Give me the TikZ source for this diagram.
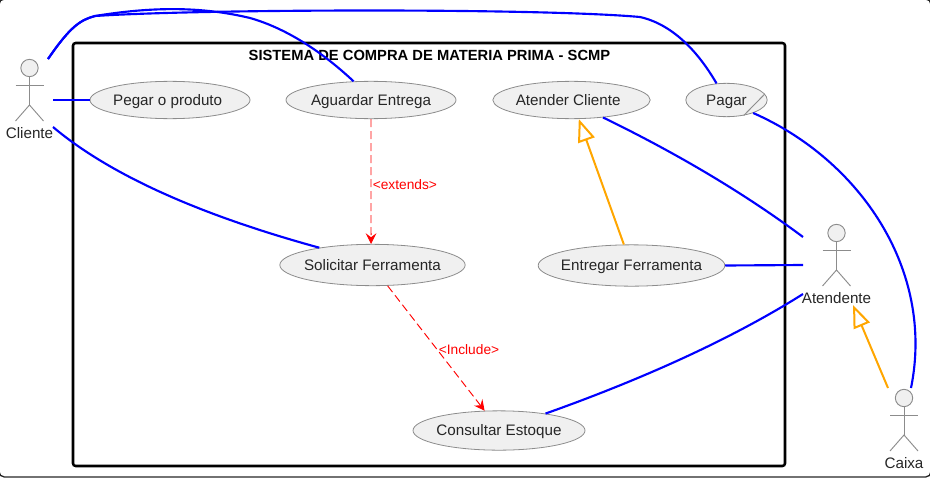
\documentclass[tikz,border=0pt]{standalone}
\usepackage{fontspec}
\setmainfont{Liberation Sans}
\usetikzlibrary{arrows.meta,shapes.geometric}

\tikzset{
  usecase/.style={ellipse,draw=gray!90,fill=black!6,line width=.6pt,inner ysep=0pt,inner xsep=-4pt,text height=8pt,text depth=0pt,font=\fontsize{11.4}{13}\selectfont,text=black!85},
  assoc/.style={draw=blue,line width=1.6pt},
  general/.style={draw=orange!70!yellow,line width=1.5pt,-{Triangle[open,fill=white,length=17pt,width=13pt]}},
  depend/.style={draw=red,dash pattern=on 6pt off 3pt,line width=.7pt,-{Stealth[length=8pt,width=8pt,inset=3pt]}},
  deplabel/.style={text=red,font=\fontsize{10.3}{12}\selectfont,inner sep=0pt},
  limb/.style={draw=gray!90,line width=.7pt},
  actor/.pic={
    \node[circle,draw=gray!90,fill=black!6,line width=.7pt,minimum size=13pt,inner sep=0pt] (-head) at (0,0) {};
    \draw[limb] (-head.south) -- (0,37);
    \draw[limb] (-14,17) -- (14,17);
    \draw[limb] (-14,53) -- (0,37) -- (14,53);
    \node[font=\fontsize{11.4}{13}\selectfont,text=black!85,inner sep=0pt] (-label) at (0,65) {#1};
  }
}

\begin{document}
\begin{tikzpicture}[x=.75pt,y=-.75pt]
  \useasboundingbox (0,0) rectangle (930,478);
  \draw[line width=1pt,black!85,rounded corners=4pt] (-1,-1) rectangle (931,477);
  \draw[line width=1.9pt,rounded corners=2pt] (73,43) rectangle (785,466);
  \node[font=\bfseries\fontsize{11.05}{13}\selectfont,inner sep=0pt] (title) at (429.5,55) {SISTEMA DE COMPRA DE MATERIA PRIMA - SCMP};

  % casos de uso
  \node[usecase,minimum width=120pt,minimum height=28pt] (pegar) at (170,100) {Pegar o produto\kern3.5pt};
  \node[usecase,minimum width=127.5pt,minimum height=28pt] (aguardar) at (371,100) {Aguardar Entrega};
  \node[usecase,minimum width=118pt,minimum height=28pt] (atender) at (571.5,100) {Atender Cliente\kern5pt};
  \node[usecase,minimum width=61pt,minimum height=25pt] (pagar) at (726.5,100) {Pagar};
  \node[usecase,minimum width=139pt,minimum height=31pt] (solicitar) at (372.5,265) {Solicitar Ferramenta};
  \node[usecase,minimum width=140pt,minimum height=31pt] (entregar) at (631.5,265.5) {Entregar Ferramenta};
  \node[usecase,minimum width=129pt,minimum height=29.5pt] (consultar) at (499,430.5) {Consultar Estoque};
  \draw[limb] (pagar.9) -- (pagar.-42);

  % atores
  \pic (cliente) at (29.5,68) {actor=Cliente};
  \pic (atendente) at (836.5,233) {actor=Atendente};
  \pic (caixa) at (904,398) {actor=Caixa};

  \coordinate (c1) at (48,59);
  \coordinate (c2) at (53,100);
  \coordinate (c3) at (53,127);
  \coordinate (a1) at (803,237);
  \coordinate (a2) at (803,265);
  \coordinate (a3) at (803,294);
  \coordinate (a4) at (853,305);
  \coordinate (x1) at (888,388);
  \coordinate (x2) at (911,388);

  \path[assoc] (c1) .. controls (70,27) and (80,20) .. (95,16)
     .. controls (150,7) and (200,6) .. (250,18)
     .. controls (285,28) and (320,50) .. (aguardar.133);
  \path[assoc] (c1) .. controls (70,27) and (80,20) .. (95,16)
     .. controls (200,9) and (540,8) .. (640,17)
     .. controls (675,25) and (700,55) .. (pagar.121);
  \path[assoc] (c2) -- (pegar.west);
  \path[assoc] (c3) .. controls (110,175) and (200,215) .. (solicitar.162);
  \path[assoc] (pagar.-26) .. controls (860,160) and (935,270) .. (x2);
  \path[assoc] (atender.-29) .. controls (670,150) and (740,190) .. (a1);
  \path[assoc] (entregar.east) -- (a2);
  \path[assoc] (consultar.20) .. controls (640,380) and (730,340) .. (a3);

  \path[general] (entregar.110) -- (atender.-69);
  \path[general] (x1) -- (a4);

  \path[depend] (aguardar.south) -- node[deplabel,pos=.52,anchor=west,xshift=1pt,yshift=-.7pt] (extlabel) {<extends>} (solicitar.94);
  \path[depend] (solicitar.-54) -- (consultar.126);
  \node[deplabel] (inclabel) at (469,349.5) {<Include>};
\end{tikzpicture}
\end{document}
